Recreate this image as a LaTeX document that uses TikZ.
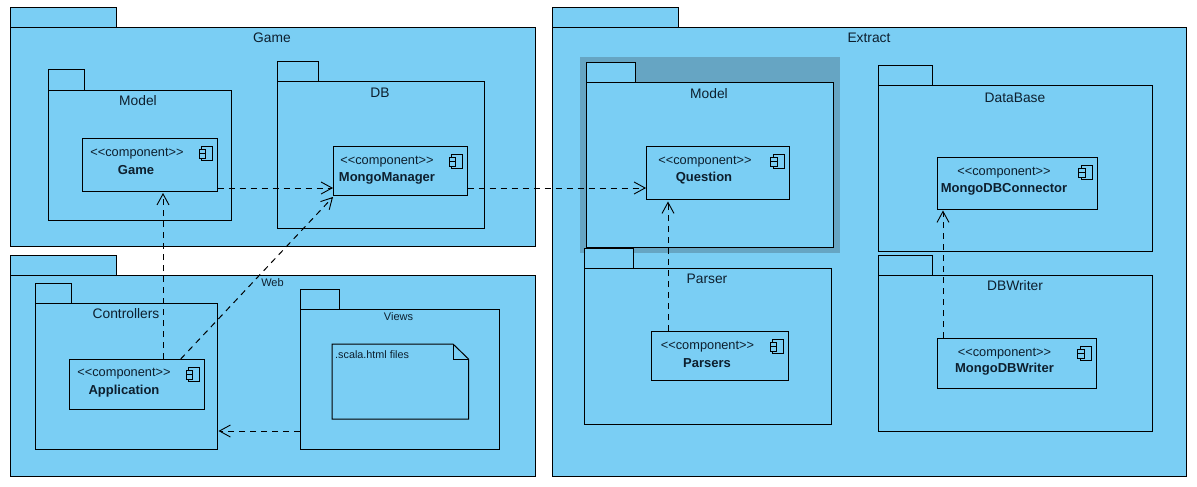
\documentclass[tikz,border=0pt]{standalone}
\usepackage{fontspec}
\setmainfont{Liberation Sans}
\usetikzlibrary{arrows.meta,fit}
\definecolor{pkgblue}{HTML}{7ACEF4}
\definecolor{hilite}{HTML}{66A5C3}
\definecolor{ink}{HTML}{0D1F2E}
\newcommand{\stereotext}{{<}{<}component{>}{>}}
\tikzset{
  shapebox/.style={draw=black,fill=pkgblue,line width=1pt,inner sep=0pt,outer sep=0pt},
  title/.style={text=ink,inner sep=0pt,yshift=-0.7pt,font=\fontsize{13.8}{16}\selectfont},
  smalltitle/.style={text=ink,inner sep=0pt,font=\fontsize{11}{13}\selectfont},
  stereo/.style={text=ink,inner sep=0pt,yshift=-1.5pt,font=\fontsize{12.8}{15}\selectfont},
  compname/.style={text=ink,inner sep=0pt,font=\fontsize{13}{15}\selectfont\bfseries},
  dep/.style={draw=black,line width=1pt,dash pattern=on 6pt off 5pt,-{Straight Barb[length=11pt,width=12pt,line width=0.9pt]}}
}
% \pkg{name}{x1}{tab right}{tab top}{body top}{x2}{bottom}
\newcommand{\pkg}[7]{%
  \node[shapebox,fit={(#2,#4)(#3,#5)}] (#1-tab) {};
  \node[shapebox,fit={(#2,#5)(#6,#7)}] (#1) {};
}
% \comp{name}{x1}{y1}{x2}{y2}
\newcommand{\comp}[5]{%
  \node[shapebox,fit={(#2,#3)(#4,#5)}] (#1) {};
  \begin{scope}[shift={(#1.north east)},line width=0.9pt]
    \draw (-16,8) rectangle (-5,22);
    \draw[fill=pkgblue] (-18.5,11) rectangle (-12,15.5);
    \draw[fill=pkgblue] (-18.5,15.5) rectangle (-12,20);
  \end{scope}
}
\begin{document}
\begin{tikzpicture}[x=1pt,y=-1pt]
\useasboundingbox (0,0) rectangle (1197,487);
% Game
\pkg{game}{10}{116}{7.5}{27.5}{535.5}{246.5}
\node[title] (game-t) at (272,37) {Game};
\pkg{gmodel}{48}{84}{70}{90}{231}{220}
\node[title] (gmodel-t) at (138,100) {Model};
\comp{gamec}{82.5}{138}{217.5}{191}
\node[stereo] (gamec-s) at (137,152) {\stereotext};
\node[compname] (gamec-n) at (136,170) {Game};
\pkg{db}{277}{318.5}{62}{82}{484.5}{228.5}
\node[title] (db-t) at (380,92) {DB};
\comp{mm}{333}{146}{467.5}{195}
\node[stereo] (mm-s) at (387,160) {\stereotext};
\node[compname] (mm-n) at (387,178) {MongoManager};
% Web
\pkg{web}{10}{116}{255}{275}{535.5}{476.5}
\node[smalltitle] (web-t) at (272.5,283) {Web};
\pkg{ctrl}{35.5}{71.5}{283}{303}{217.5}{449}
\node[title] (ctrl-t) at (126,313) {Controllers};
\comp{app}{69}{359}{204.5}{409}
\node[stereo] (app-s) at (124,372.5) {\stereotext};
\node[compname] (app-n) at (124,391) {Application};
\pkg{views}{300}{339}{289}{309}{499}{449}
\node[smalltitle] (views-t) at (398.5,317) {Views};
\draw[shapebox] (332,344) -- (453,344) -- (468.5,359) -- (468.5,419) -- (332,419) -- cycle;
\draw[line width=1pt] (453,344) -- (453,359) -- (468.5,359);
\node[text=ink,inner sep=0pt,anchor=west,font=\fontsize{10.8}{13}\selectfont] (note-t) at (335,354.5) {.scala.html files};
% Extract
\pkg{ext}{552}{678.5}{7.5}{27.5}{1186}{476.5}
\node[title] (ext-t) at (869,37) {Extract};
\fill[hilite] (580,57) rectangle (840,253);
\pkg{emodel}{586}{635.5}{63}{83}{833.5}{247}
\node[title] (emodel-t) at (709,93) {Model};
\comp{qc}{646}{146}{789}{199.5}
\node[stereo] (qc-s) at (705,160) {\stereotext};
\node[compname] (qc-n) at (704,178) {Question};
\pkg{parser}{584.5}{633.5}{248}{268}{831.5}{424}
\node[title] (parser-t) at (707,278) {Parser};
\comp{pc}{651.5}{331}{788.5}{380.5}
\node[stereo] (pc-s) at (707.5,345) {\stereotext};
\node[compname] (pc-n) at (707,363) {Parsers};
\pkg{dbase}{878.5}{932.5}{66}{86}{1152.5}{251.5}
\node[title] (dbase-t) at (1015,97) {DataBase};
\comp{conn}{937.5}{157}{1097}{209}
\node[stereo] (conn-s) at (1004,171) {\stereotext};
\node[compname] (conn-n) at (1004,189) {MongoDBConnector};
\pkg{writer}{878.5}{932.5}{255}{275}{1152.5}{431}
\node[title] (writer-t) at (1015,285) {DBWriter};
\comp{wc}{937.5}{338}{1096}{388}
\node[stereo] (wc-s) at (1004.5,352) {\stereotext};
\node[compname] (wc-n) at (1004.5,369.5) {MongoDBWriter};
% Dependencies
\draw[dep] ([yshift=-23.5pt]gamec.east) -- ([yshift=-17.5pt]mm.west);
\draw[dep] ([yshift=-17.5pt]mm.east) -- ([yshift=-15.25pt]qc.west);
\draw[dep] (app.north west -| 163,0) -- ([yshift=-2pt]gamec.south west -| 163,0);
\draw[dep] ([xshift=44pt]app.north) -- ([yshift=-2pt]mm.south west);
\draw[dep] (views.west |- 0,431) -- ([xshift=1pt]ctrl.east |- 0,431);
\draw[dep] ([xshift=-52pt]pc.north) -- ([xshift=-49.5pt,yshift=-2pt]qc.south);
\draw[dep] ([xshift=5.5pt]wc.north west) -- ([xshift=5.5pt,yshift=-1.5pt]conn.south west);
\end{tikzpicture}
\end{document}
